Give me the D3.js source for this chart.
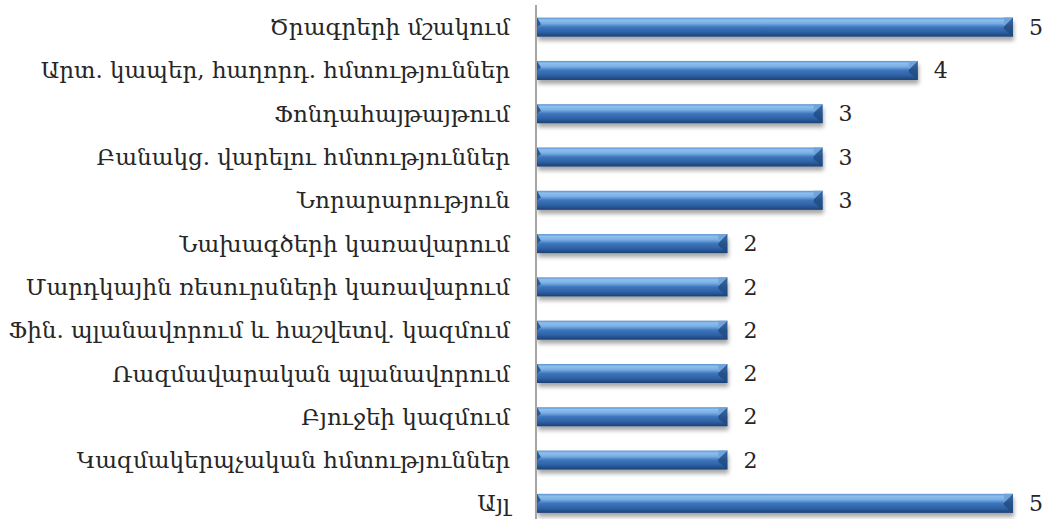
<!DOCTYPE html>
<html><head><meta charset="utf-8">
<script src="https://cdn.jsdelivr.net/npm/d3@7"></script>
<style>body{margin:0;background:#fff}</style>
</head><body><svg id="c" width="1045" height="519"></svg>
<script>
const categories = ["Ծրագրերի մշակում","Արտ. կապեր, հաղորդ. հմտություններ","Ֆոնդահայթայթում","Բանակց. վարելու հմտություններ","Նորարարություն","Նախագծերի կառավարում","Մարդկային ռեսուրսների կառավարում","Ֆին. պլանավորում և հաշվետվ. կազմում","Ռազմավարական պլանավորում","Բյուջեի կազմում","Կազմակերպչական հմտություններ","Այլ"];
const values = [5,4,3,3,3,2,2,2,2,2,2,5];

const svg = d3.select("#c");
const x0 = 537;
const x = d3.scaleLinear().domain([0,5]).range([x0, 1013]);
const y = d3.scaleBand().domain(categories).range([5.5, 525]).paddingInner(0.56).paddingOuter(0.28);

const defs = svg.append("defs");
const g = defs.append("linearGradient").attr("id","bg").attr("x1",0).attr("y1",0).attr("x2",0).attr("y2",1);
[[0,"#5a8fcf"],[0.12,"#8cc0ee"],[0.3,"#7aaee4"],[0.5,"#3d75bc"],[0.75,"#2e62a6"],[0.9,"#234f8a"],[1,"#1b3f70"]]
 .forEach(([o,c])=>g.append("stop").attr("offset",o).attr("stop-color",c));
const f = defs.append("filter").attr("id","sh").attr("x","-5%").attr("y","-50%").attr("width","110%").attr("height","250%");
f.append("feGaussianBlur").attr("in","SourceAlpha").attr("stdDeviation",2.2);
f.append("feOffset").attr("dx",1).attr("dy",4).attr("result","o");
f.append("feComponentTransfer").append("feFuncA").attr("type","linear").attr("slope",0.35);
const m = f.append("feMerge"); m.append("feMergeNode"); m.append("feMergeNode").attr("in","SourceGraphic");

const bars = svg.append("g").selectAll("g").data(categories).join("g");
bars.append("rect")
  .attr("x", x(0)).attr("y", d=>y(d))
  .attr("width", (d,i)=>x(values[i])-x(0)).attr("height", y.bandwidth())
  .attr("fill","url(#bg)").attr("filter","url(#sh)");
bars.append("path")
  .attr("d",(d,i)=>{const xe=x(values[i]), yt=y(d), h=y.bandwidth(); return `M${xe},${yt}L${xe-9},${yt+h*0.45}L${xe-9},${yt+h*0.6}L${xe},${yt+h}Z`;})
  .attr("fill","#1f4a80").attr("opacity",0.8);
bars.append("path")
  .attr("d",(d,i)=>{const xe=x(values[i]), yt=y(d), h=y.bandwidth(); return `M${xe},${yt}L${xe-9},${yt+h*0.45}L${xe-9},${yt}Z`;})
  .attr("fill","#6fa3dc");
bars.append("path")
  .attr("d",(d)=>{const xs=x(0), yt=y(d), h=y.bandwidth(); return `M${xs},${yt}L${xs+4},${yt+h*0.35}L${xs},${yt+h*0.5}Z`;})
  .attr("fill","#2a5a9a");

svg.append("line").attr("x1",536).attr("x2",536).attr("y1",5).attr("y2",519)
  .attr("stroke","#a6a6a6").attr("stroke-width",2);

const font = "'DejaVu Serif', 'Liberation Serif', serif";
svg.append("g").selectAll("text").data(categories).join("text")
  .attr("x", 510).attr("y", d=>y(d)+y.bandwidth()/2).attr("dy","0.35em")
  .attr("text-anchor","end").attr("font-family",font).attr("font-size",23).attr("fill","#262626")
  .text(d=>d);
svg.append("g").selectAll("text").data(categories).join("text")
  .attr("x",(d,i)=>x(values[i])+16).attr("y", d=>y(d)+y.bandwidth()/2).attr("dy","0.35em")
  .attr("font-family",font).attr("font-size",22).attr("fill","#262626")
  .text((d,i)=>values[i]);
</script></body></html>
